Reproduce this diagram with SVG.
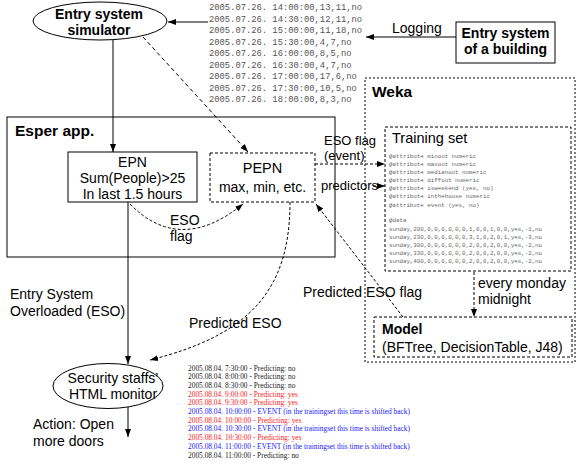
<svg xmlns="http://www.w3.org/2000/svg" width="576" height="465" viewBox="0 0 576 465">
<style>
.t{font-family:"Liberation Sans",Arial,sans-serif;font-size:14px;fill:#000}
.b{font-weight:bold}
.c{text-anchor:middle}
.log{font-family:"Liberation Mono","Courier New",monospace;font-size:8.8px;fill:#555}
.ts{font-family:"Liberation Mono","Courier New",monospace;font-size:5.8px;fill:#666}
.pl{font-family:"Liberation Serif","Times New Roman",serif;font-size:7.4px}
.k{fill:#222}.r{fill:#ff2020}.u{fill:#2020ff}
.s{fill:none;stroke:#000;stroke-width:1}
.d{fill:none;stroke:#000;stroke-width:1;stroke-dasharray:3,2}
.dd{fill:none;stroke:#000;stroke-width:1;stroke-dasharray:4,3}
.dot{fill:none;stroke:#000;stroke-width:1;stroke-dasharray:2,2}
</style>
<defs>
<marker id="ah" markerUnits="userSpaceOnUse" markerWidth="8" markerHeight="8" viewBox="0 0 8 8" refX="8" refY="4" orient="auto">
<path d="M0,1 L8,4 L0,7 z" fill="#000"/>
</marker>
</defs>
<rect width="576" height="465" fill="#fff"/>

<g id="weka">
<rect x="365" y="78" width="210" height="284" class="dot"/>
<text x="372" y="97" class="t b" style="font-size:15.5px">Weka</text>
</g>

<g id="esper">
<rect x="7" y="117" width="328" height="140" class="s"/>
<text x="15" y="136" class="t b" style="font-size:15.5px">Esper app.</text>
</g>

<g id="simulator">
<ellipse cx="100" cy="21" rx="67" ry="19" class="s"/>
<text x="99" y="19" class="t b c">Entry system</text>
<text x="99" y="35" class="t b c">simulator</text>
</g>

<g id="building">
<rect x="456" y="22" width="99" height="41" class="s"/>
<text x="505.5" y="38" class="t b c">Entry system</text>
<text x="505.5" y="54" class="t b c">of a building</text>
</g>

<g id="logfile">
<text class="log" x="209" y="10">2005.07.26. 14:00:00,13,11,no</text>
<text class="log" x="209" y="21.5">2005.07.26. 14:30:00,12,11,no</text>
<text class="log" x="209" y="33">2005.07.26. 15:00:00,11,18,no</text>
<text class="log" x="209" y="44.5">2005.07.26. 15:30:00,4,7,no</text>
<text class="log" x="209" y="56">2005.07.26. 16:00:00,8,5,no</text>
<text class="log" x="209" y="67.5">2005.07.26. 16:30:00,4,7,no</text>
<text class="log" x="209" y="79">2005.07.26. 17:00:00,17,6,no</text>
<text class="log" x="209" y="90.5">2005.07.26. 17:30:00,10,5,no</text>
<text class="log" x="209" y="102">2005.07.26. 18:00:00,8,3,no</text>
</g>

<g id="epn">
<rect x="68" y="152" width="129" height="50" class="s"/>
<text x="132.5" y="167" class="t c">EPN</text>
<text x="132.5" y="183" class="t c">Sum(People)&gt;25</text>
<text x="132.5" y="198.5" class="t c">In last 1.5 hours</text>
</g>

<g id="pepn">
<rect x="210" y="153" width="105" height="49" class="d"/>
<text x="262.5" y="173" class="t c" style="font-size:14.5px">PEPN</text>
<text x="262.5" y="192" class="t c">max, min, etc.</text>
</g>

<g id="trainingset">
<rect x="385" y="127" width="186" height="144" class="d"/>
<text x="392" y="143" class="t" style="font-size:14.5px">Training set</text>
<text class="ts" x="389" y="158">@attribute minout numeric</text>
<text class="ts" x="389" y="166">@attribute maxout numeric</text>
<text class="ts" x="389" y="174">@attribute medianout numeric</text>
<text class="ts" x="389" y="182">@attribute diffout numeric</text>
<text class="ts" x="389" y="190">@attribute isweekend (yes, no)</text>
<text class="ts" x="389" y="198">@attribute inthehouse numeric</text>
<text class="ts" x="389" y="206.5">@attribute event (yes, no)</text>
<text class="ts" x="389" y="222">@data</text>
<text class="ts" x="389" y="230.5">sunday,200,0,0,0,0,0,0,1,0,0,1,0,0,yes,-1,no</text>
<text class="ts" x="389" y="238.5">sunday,230,0,0,0,0,0,0,3,1,0,2,0,1,yes,-3,no</text>
<text class="ts" x="389" y="246.5">sunday,300,0,0,0,0,0,0,2,0,0,2,0,0,yes,-2,no</text>
<text class="ts" x="389" y="254.5">sunday,330,0,0,0,0,0,0,2,0,0,2,0,0,yes,-2,no</text>
<text class="ts" x="389" y="262.5">sunday,400,0,0,0,0,0,0,2,0,0,2,0,0,yes,-2,no</text>
</g>

<g id="model">
<rect x="374" y="317" width="198" height="40" class="d"/>
<text x="382" y="334" class="t b">Model</text>
<text x="382" y="352" class="t">(BFTree, DecisionTable, J48)</text>
</g>

<g id="monitor">
<ellipse cx="108" cy="386" rx="55" ry="22.5" class="s"/>
<text x="113" y="383" class="t c">Security staffs’</text>
<text x="113" y="399" class="t c">HTML monitor</text>
</g>

<g id="predictions">
<text class="pl k" x="188" y="370.5">2005.08.04. 7:30:00 - Predicting: no</text>
<text class="pl k" x="188" y="379.2">2005.08.04. 8:00:00 - Predicting: no</text>
<text class="pl k" x="188" y="387.9">2005.08.04. 8:30:00 - Predicting: no</text>
<text class="pl r" x="188" y="396.6">2005.08.04. 9:00:00 - Predicting: yes</text>
<text class="pl r" x="188" y="405.3">2005.08.04. 9:30:00 - Predicting: yes</text>
<text class="pl u" x="188" y="414">2005.08.04. 10:00:00 - EVENT (in the trainingset this time is shifted back)</text>
<text class="pl r" x="188" y="422.7">2005.08.04. 10:00:00 - Predicting: yes</text>
<text class="pl u" x="188" y="431.4">2005.08.04. 10:30:00 - EVENT (in the trainingset this time is shifted back)</text>
<text class="pl r" x="188" y="440.1">2005.08.04. 10:30:00 - Predicting: yes</text>
<text class="pl u" x="188" y="448.8">2005.08.04. 11:00:00 - EVENT (in the trainingset this time is shifted back)</text>
<text class="pl k" x="188" y="457.5">2005.08.04. 11:00:00 - Predicting: no</text>
</g>

<g id="connectors">
<line x1="456" y1="37" x2="366" y2="37" class="s" marker-end="url(#ah)"/>
<text x="392" y="33" class="t">Logging</text>
<line x1="208" y1="22" x2="168" y2="22" class="s" marker-end="url(#ah)"/>
<line x1="113" y1="40" x2="113" y2="152" class="s" marker-end="url(#ah)"/>
<line x1="143" y1="37" x2="248" y2="152" class="dd" marker-end="url(#ah)"/>
<path d="M130,204 Q180,255 243,204" class="d" marker-end="url(#ah)"/>
<text x="170" y="225" class="t">ESO</text>
<text x="170" y="241" class="t">flag</text>
<line x1="315" y1="164" x2="385" y2="164" class="d" marker-end="url(#ah)"/>
<text x="324" y="145" class="t" style="font-size:13px">ESO flag</text>
<text x="324" y="160" class="t" style="font-size:13px">(event)</text>
<text x="321" y="190" class="t" style="font-size:13px">predictors</text>
<line x1="373" y1="186" x2="385" y2="186" class="d" marker-end="url(#ah)"/>
<line x1="474" y1="272" x2="474" y2="317" class="d" marker-end="url(#ah)"/>
<text x="478" y="288" class="t">every monday</text>
<text x="478" y="304" class="t">midnight</text>
<line x1="403" y1="317" x2="316" y2="204" class="d" marker-end="url(#ah)"/>
<text x="303" y="297" class="t">Predicted ESO flag</text>
<line x1="128" y1="202" x2="128" y2="364" class="s" marker-end="url(#ah)"/>
<text x="10" y="299" class="t">Entry System</text>
<text x="10" y="316" class="t">Overloaded (ESO)</text>
<path d="M290,202 C290,290 250,335 150,360" class="d" marker-end="url(#ah)"/>
<text x="189" y="328" class="t">Predicted ESO</text>
<line x1="128" y1="407" x2="128" y2="437" class="s" marker-end="url(#ah)"/>
<text x="33" y="429" class="t">Action: Open</text>
<text x="33" y="446" class="t">more doors</text>
</g>
</svg>
